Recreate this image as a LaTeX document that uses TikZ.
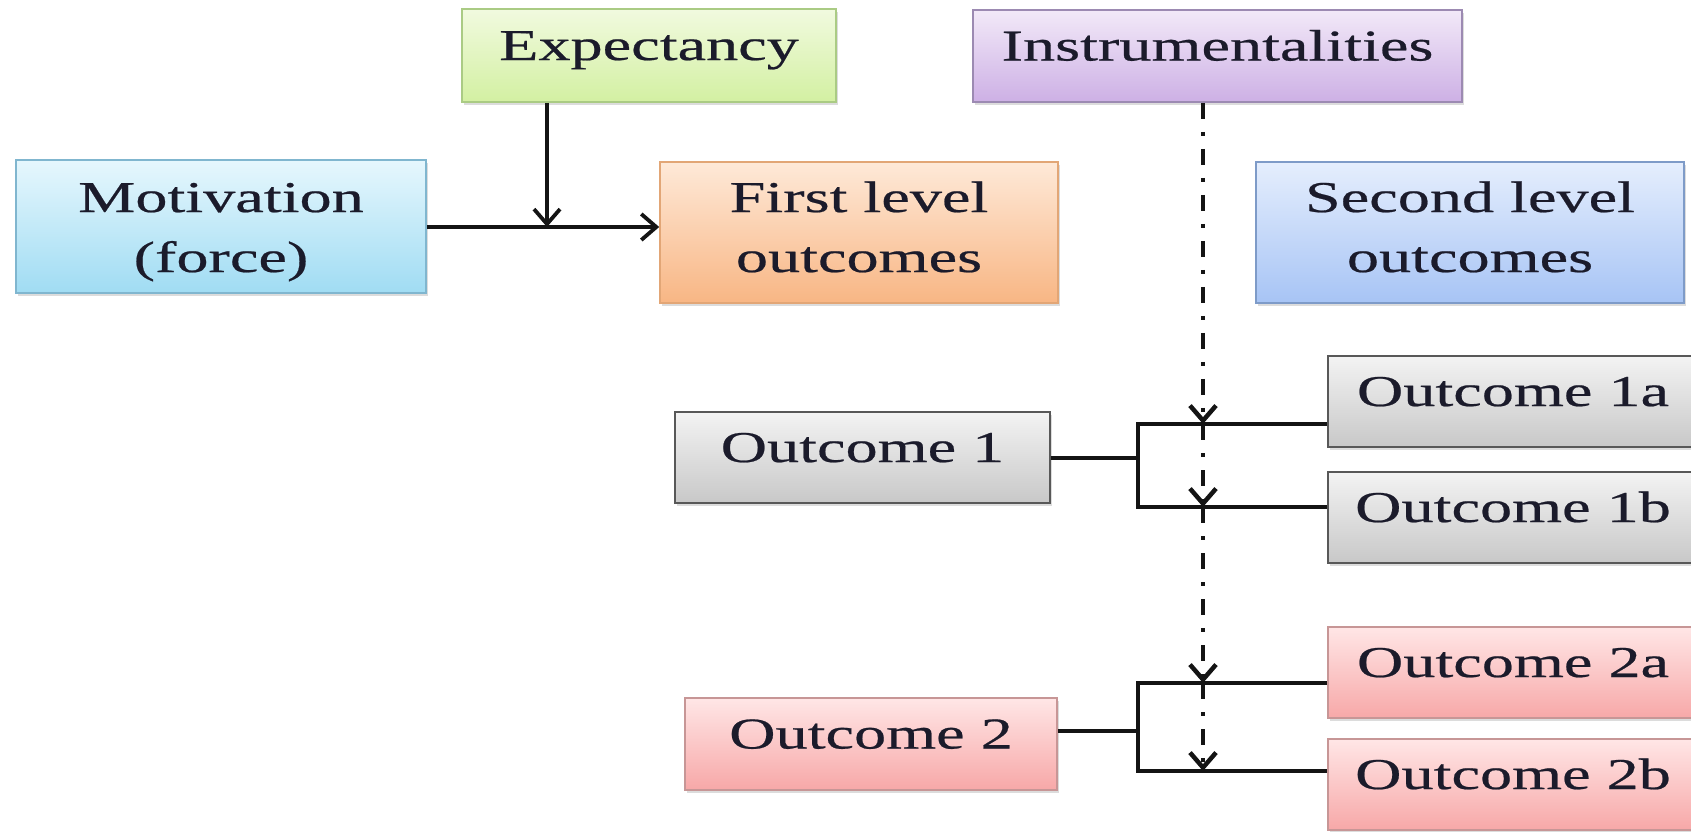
\documentclass[tikz,border=0pt]{standalone}
\usepackage{fontspec}
\setmainfont{Liberation Serif}[FakeStretch=1.46,FakeBold=0.5]
\usetikzlibrary{arrows.meta,shadows,calc}

% box fills: light top, deeper bottom, and a border shade
\definecolor{expT}{HTML}{F1FADF}\definecolor{expB}{HTML}{D3F0A2}\definecolor{expD}{HTML}{AACB84}
\definecolor{motT}{HTML}{E6F7FD}\definecolor{motB}{HTML}{A0DCF3}\definecolor{motD}{HTML}{80B6CF}
\definecolor{flT}{HTML}{FEE9D8}\definecolor{flB}{HTML}{F8B684}\definecolor{flD}{HTML}{E2A676}
\definecolor{insT}{HTML}{F2E9F8}\definecolor{insB}{HTML}{CDB0E5}\definecolor{insD}{HTML}{9C8AB2}
\definecolor{slT}{HTML}{E5EEFD}\definecolor{slB}{HTML}{A7C4F5}\definecolor{slD}{HTML}{7E9BC8}
\definecolor{gryT}{HTML}{F3F3F3}\definecolor{gryB}{HTML}{C8C8C8}\definecolor{gryD}{HTML}{585858}
\definecolor{pnkT}{HTML}{FFE6E6}\definecolor{pnkB}{HTML}{F7A8A8}\definecolor{pnkD}{HTML}{C79696}
\definecolor{txt}{HTML}{1B1B2B}

\begin{document}
\begin{tikzpicture}[x=1pt,y=-1pt,
  box/.style={draw, line width=1.6pt, inner sep=0pt, text=txt,
    font=\fontsize{44}{60}\selectfont,
    drop shadow={shadow xshift=2pt, shadow yshift=-3pt, opacity=0.28}},
  oneline/.style={text height=30pt, text depth=21pt},
  % multi-line text is referenced at its last baseline
  twoline/.style={align=center, text height=90pt, text depth=11pt},
  shade/.style n args={3}{top color=#1, bottom color=#2, draw=#3},
  conn/.style={line width=3.8pt, draw=black!92, line join=miter},
  tip/.style={-{Straight Barb[length=15pt,width=26pt]}},
  dashdot/.style={conn, line width=4.5pt, tip, dash pattern=on 16pt off 13pt on 4pt off 13pt}
]
\useasboundingbox (0,0) rectangle (1691,831);
\clip (0,0) rectangle (1691,831);

% top row
\node[box, oneline, shade={expT}{expB}{expD}, minimum width=374pt, minimum height=93pt]
  (exp) at (649,55.5) {Expectancy};
\node[box, oneline, shade={insT}{insB}{insD}, minimum width=489pt, minimum height=92pt]
  (ins) at (1217.5,56) {Instrumentalities};

% second row
\node[box, twoline, text height=91pt, text depth=0pt, shade={motT}{motB}{motD}, minimum width=410pt, minimum height=133pt]
  (mot) at (221,226.5) {Motivation\\(force)};
\node[box, twoline, shade={flT}{flB}{flD}, minimum width=398pt, minimum height=141pt]
  (fl) at (859,232.5) {First level\\outcomes};
\node[box, twoline, shade={slT}{slB}{slD}, minimum width=428pt, minimum height=141pt]
  (sl) at (1470,232.5) {Second level\\outcomes};

% first level outcomes
\node[box, oneline, shade={gryT}{gryB}{gryD}, minimum width=375pt, minimum height=91pt]
  (o1) at (862.5,457.5) {Outcome 1};
\node[box, oneline, shade={pnkT}{pnkB}{pnkD}, minimum width=372pt, minimum height=92pt]
  (o2) at (871,744) {Outcome 2};

% second level outcomes
\node[box, oneline, shade={gryT}{gryB}{gryD}, minimum width=370pt, minimum height=91pt]
  (o1a) at (1513,401.5) {Outcome 1a};
\node[box, oneline, shade={gryT}{gryB}{gryD}, minimum width=370pt, minimum height=91pt]
  (o1b) at (1513,517.5) {Outcome 1b};
\node[box, oneline, shade={pnkT}{pnkB}{pnkD}, minimum width=370pt, minimum height=91pt]
  (o2a) at (1513,672.5) {Outcome 2a};
\node[box, oneline, shade={pnkT}{pnkB}{pnkD}, minimum width=370pt, minimum height=91pt]
  (o2b) at (1513,784.5) {Outcome 2b};

% motivation and expectancy into first level outcomes
\coordinate (ej) at (547,227);
\draw[conn, tip] (mot.east |- ej) -- (fl.west |- ej);
\draw[conn, tip] (exp.south -| ej) -- (ej);

% branches from each first level outcome
\coordinate (b1a) at (1138,424);
\coordinate (b1b) at (1138,507);
\coordinate (b2a) at (1138,683);
\coordinate (b2b) at (1138,771);
\draw[conn] (o1.east |- 0,458) -- (1138,458);
\draw[conn] (b1a -| o1a.west) -- (b1a) -- (b1b) -- (b1b -| o1b.west);
\draw[conn] (o2.east |- 0,731) -- (1138,731);
\draw[conn] (b2a -| o2a.west) -- (b2a) -- (b2b) -- (b2b -| o2b.west);

% instrumentalities acting on each branch
\coordinate (dx) at (1203,0);
\draw[dashdot] (ins.south -| dx) -- (b1a -| dx);
\draw[dashdot] (b1a -| dx) -- (b1b -| dx);
\draw[dashdot] (b1b -| dx) -- (b2a -| dx);
\draw[dashdot] (b2a -| dx) -- (b2b -| dx);
\end{tikzpicture}
\end{document}
